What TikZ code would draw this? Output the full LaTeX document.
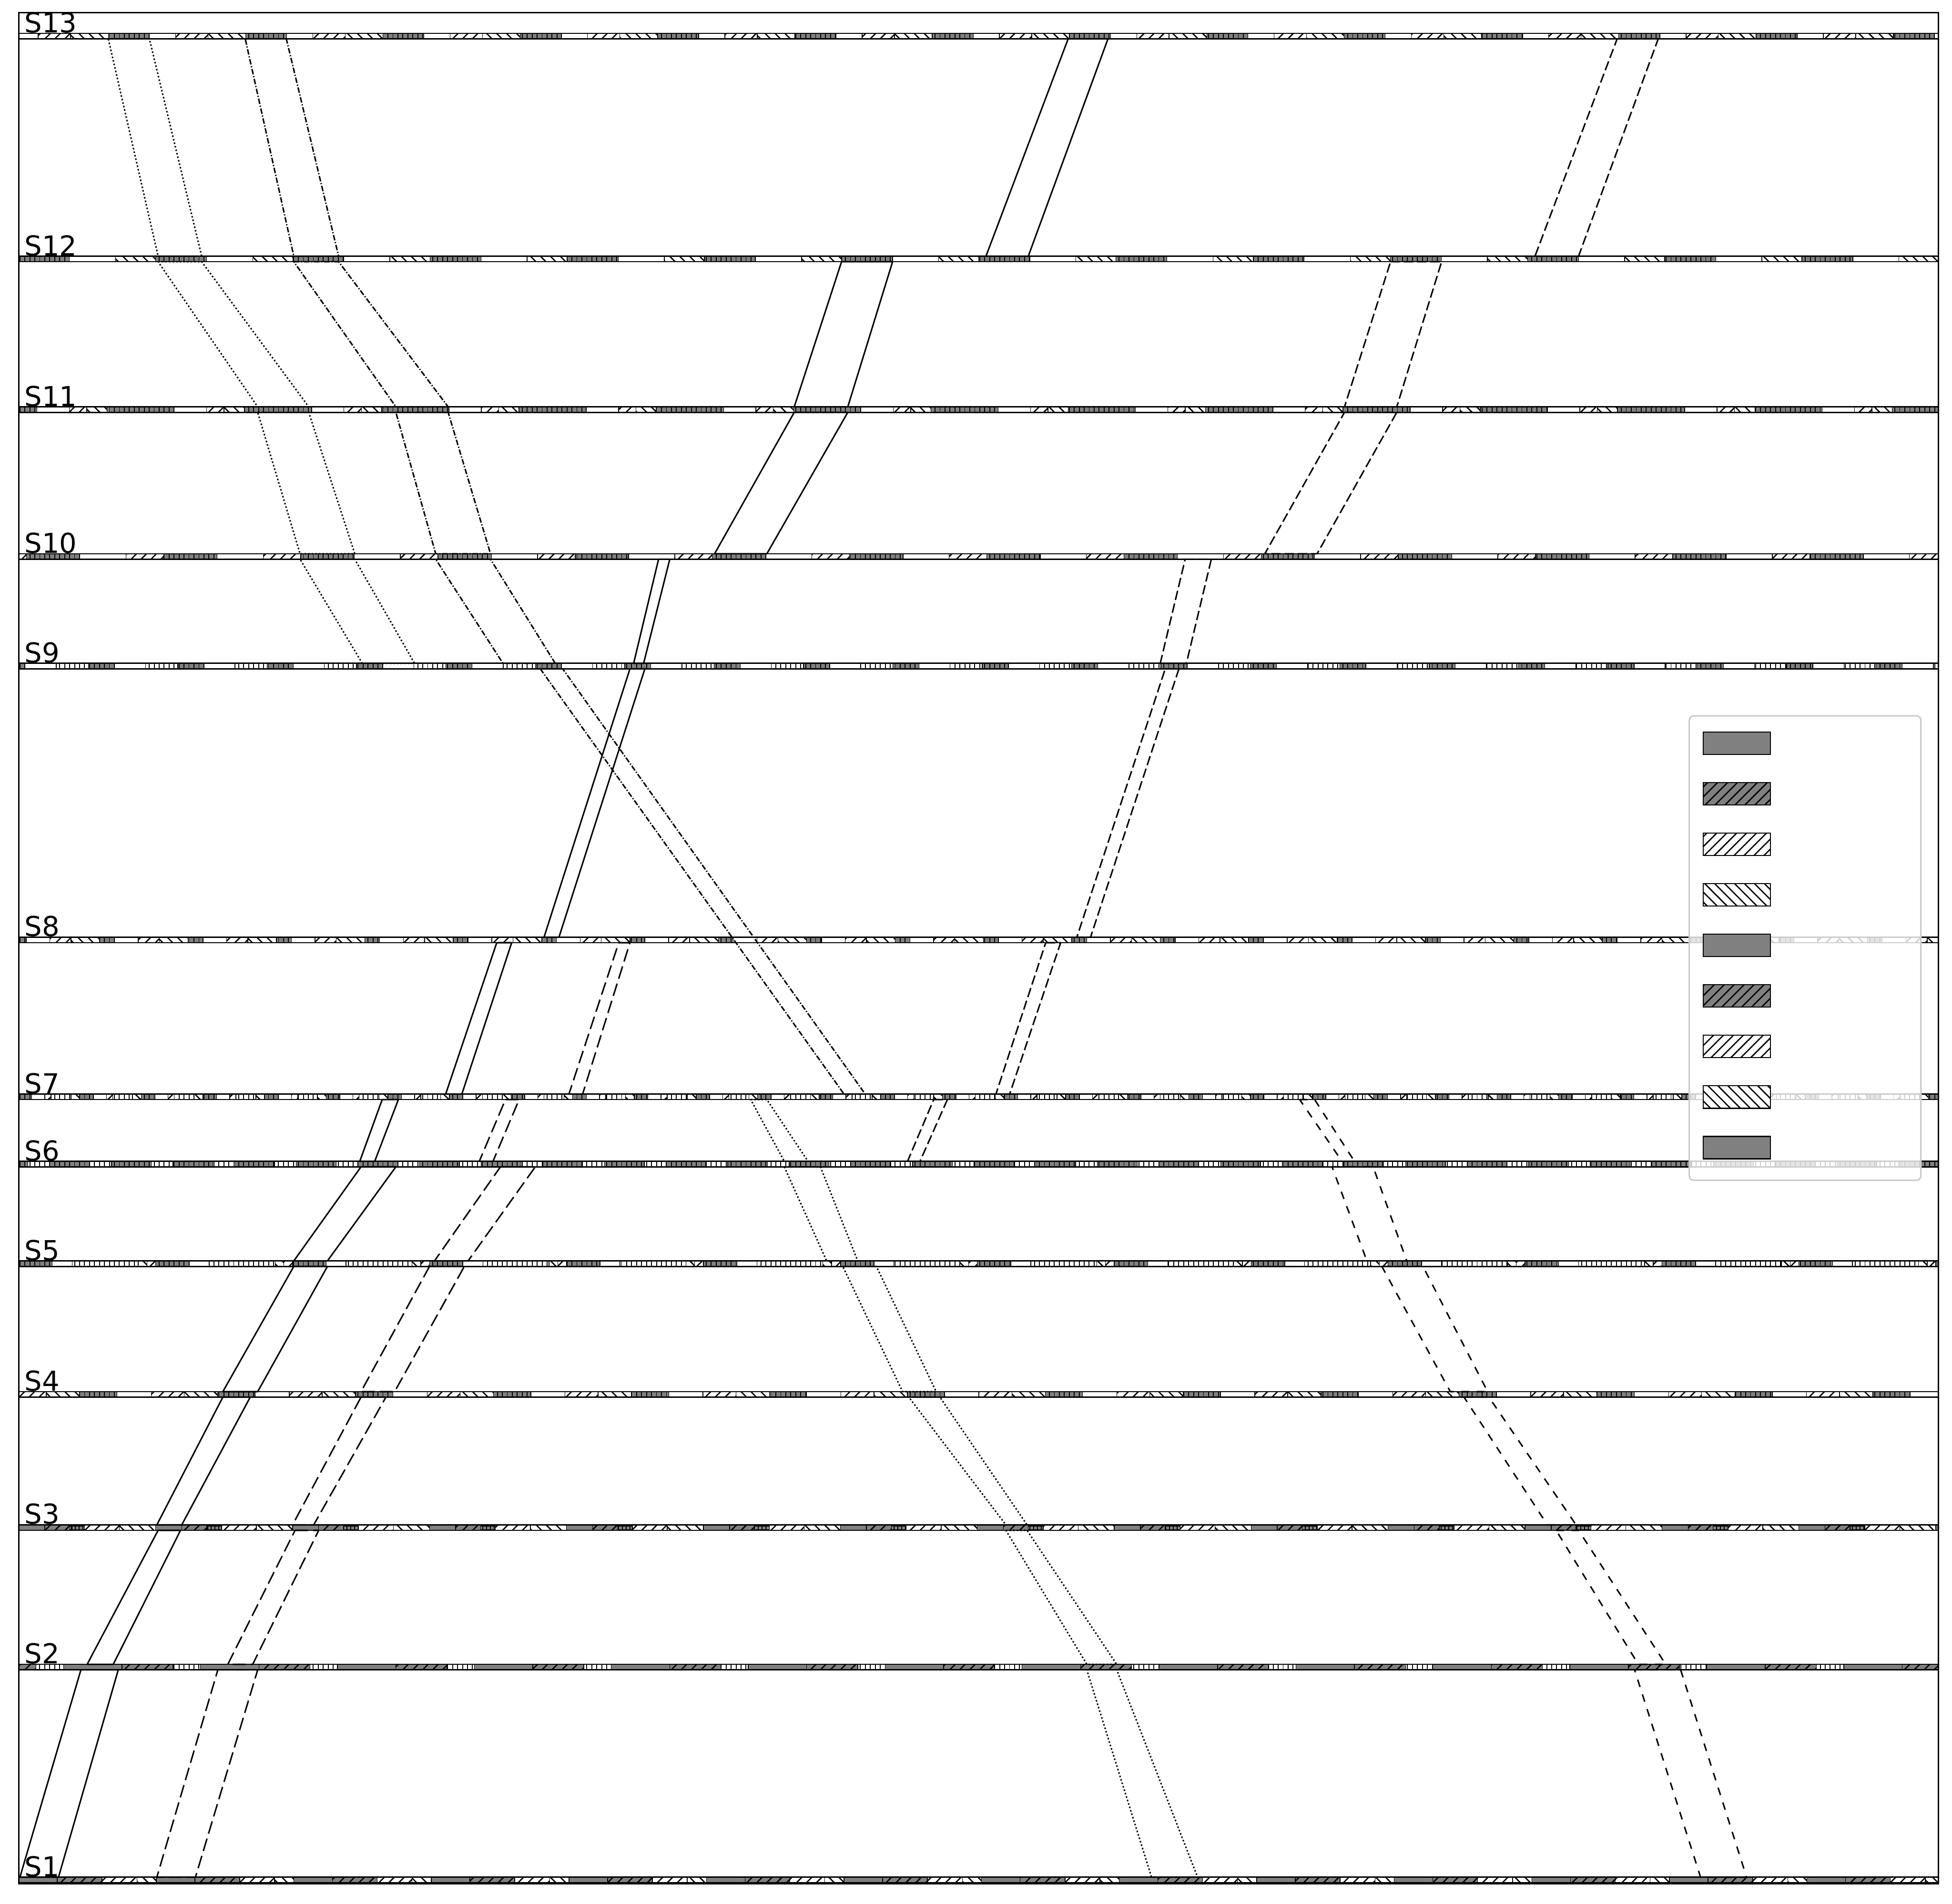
\documentclass[tikz,border=0pt]{standalone}
\usepackage{fontspec}
\setmainfont{DejaVu Sans}
\usetikzlibrary{patterns.meta}

% track rows, S1 (index 1) ... S13 (index 13), y in px from top
\def\ypos{{0,1510,1339,1227,1120,1015,935,881,755,535,447,329,208,29}}

\tikzset{
  seg/.style={draw=black, line width=0.4pt},
  wt/.style={seg, fill=white},
  gy/.style={seg, fill=gray},
  gv/.style={seg, preaction={fill=gray}, pattern={Lines[angle=90,distance=2.9pt,line width=0.5pt]}, pattern color=black},
  wv/.style={seg, preaction={fill=white}, pattern={Lines[angle=90,distance=2.9pt,line width=0.55pt]}, pattern color=black},
  wne/.style={seg, preaction={fill=white}, pattern={Lines[angle=45,distance=4.1pt,line width=0.75pt]}, pattern color=black},
  wnw/.style={seg, preaction={fill=white}, pattern={Lines[angle=-45,distance=4.1pt,line width=0.75pt]}, pattern color=black},
  gne/.style={seg, preaction={fill=gray}, pattern={Lines[angle=45,distance=4.1pt,line width=0.75pt]}, pattern color=black},
  ggrid/.style={seg, preaction={fill=gray}, pattern={Hatch[angle=0,distance=2.2pt,line width=0.6pt]}, pattern color=black},
  strip/.style={draw=black, line width=0.75pt},
  band/.style={line width=0.85pt, line join=round},
  solidband/.style={band},
  dotband/.style={band, dash pattern=on 0.9pt off 1.2pt},
  dashdotband/.style={band, dash pattern=on 3.2pt off 1pt on 0.7pt off 1pt},
  dashband/.style={band, dash pattern=on 5.5pt off 2.2pt},
  longdashband/.style={band, dash pattern=on 7.5pt off 3pt},
  loosedashband/.style={band, dash pattern=on 4.5pt off 4.5pt},
  lbl/.style={anchor=base west, inner sep=0pt, font=\fontsize{16}{19}\selectfont},
  legendbox/.style={draw=gray!40, line width=0.9pt, fill=white, fill opacity=0.8, rounded corners=2.5pt},
  legpatch/.style={line width=0.6pt}
}

% #1 track, #2 phase, #3 period, #4 cycles, #5 segments style/from/to
\newcommand{\seqtrack}[5]{%
  \pgfmathsetmacro{\ty}{\ypos[#1]}
  \begin{scope}
    \clip (15,\ty-2.2) rectangle (1557,\ty+2.2);
    \foreach \k in {0,...,#4} {
      \foreach \s/\a/\b in {#5} {
        \edef\segpath{\noexpand\path[\s]}
        \segpath ({#2+\k*#3+\a},\ty-2.2) rectangle ({#2+\k*#3+\b},\ty+2.2);
      }
    }
  \end{scope}
  \draw[strip] (15,\ty-2.2) rectangle (1557,\ty+2.2);
}

% #1 style, #2 upper track, #3 #4 x on it, #5 lower track, #6 #7 x on it
\newcommand{\syntband}[7]{%
  \pgfmathsetmacro{\yu}{\ypos[#2]+2.2}
  \pgfmathsetmacro{\yl}{\ypos[#5]-2.2}
  \draw[#1] (#3,\yu) -- (#4,\yu) -- (#7,\yl) -- (#6,\yl) -- cycle;
}

\begin{document}
\begin{tikzpicture}[x=0.02551cm, y=-0.02551cm]
  \useasboundingbox (0,0) rectangle (1568,1529);

  % tracks
  \seqtrack{13}{-23.3}{110.3}{15}{gv/0/33, wt/33/54, wne/54/80, wnw/80/110.3}
  \seqtrack{12}{14.8}{110.2}{15}{gv/0/41, wt/41/78, wnw/78/110.2}
  \seqtrack{11}{-24.3}{110.3}{15}{gv/0/54, wt/54/80, wne/80/94, wnw/94/110.3}
  \seqtrack{10}{-89}{110.2}{16}{gv/0/43, wt/43/80, wne/80/110.2}
  \seqtrack{9}{-0.8}{71.8}{22}{gv/0/21, wt/21/46, wv/46/71.8}
  \seqtrack{8}{9}{71}{22}{gv/0/12, wt/12/31, wne/31/48, wnw/48/71}
  \seqtrack{7}{14.5}{49.5}{31}{gv/0/11, wt/11/21.5, wne/21.5/26.5, wv/26.5/42.5, wnw/42.5/49.5}
  \seqtrack{6}{-9.5}{49.5}{32}{gv/0/32, wv/32/49.5}
  \seqtrack{5}{15}{110}{14}{gv/0/27, wt/27/43, wv/43/96, wnw/96/103, wne/103/110}
  \seqtrack{4}{-46.8}{110.8}{15}{gv/0/30, wt/30/57.5, wne/57.5/84, wnw/84/110.8}
  \seqtrack{3}{15}{110}{14}{gy/0/21, gne/21/41, ggrid/41/53, wne/53/81, wnw/81/110}
  \seqtrack{2}{-59}{110}{15}{gy/0/47, gne/47/88, wv/88/110}
  \seqtrack{1}{15}{110.5}{14}{gy/0/31, gne/31/67, wne/67/95, wnw/95/110.5}

  % dotted, left top
  \syntband{dotband}{13}{87}{120}{12}{127}{162}
  \syntband{dotband}{12}{127}{162}{11}{207}{248}
  \syntband{dotband}{11}{207}{248}{10}{241}{285}
  \syntband{dotband}{10}{241}{285}{9}{291}{333}
  % dash-dot
  \syntband{dashdotband}{13}{197}{230}{12}{236}{272}
  \syntband{dashdotband}{12}{236}{272}{11}{318}{360}
  \syntband{dashdotband}{11}{318}{360}{10}{350}{394}
  \syntband{dashdotband}{10}{350}{394}{9}{404}{446}
  \syntband{dashdotband}{9}{434}{452}{7}{678}{695}
  % solid, top
  \syntband{solidband}{13}{858}{890}{12}{792}{826}
  \syntband{solidband}{12}{676}{717}{11}{638}{681}
  \syntband{solidband}{11}{638}{681}{10}{574}{616}
  % dashed, top right
  \syntband{dashband}{13}{1299}{1332}{12}{1233}{1268}
  \syntband{dashband}{12}{1117}{1158}{11}{1080}{1122}
  \syntband{dashband}{11}{1080}{1122}{10}{1016}{1058}
  % solid, down to S1
  \syntband{solidband}{10}{529}{538}{9}{509}{517}
  \syntband{solidband}{9}{506}{518}{8}{437}{449}
  \syntband{solidband}{8}{399}{411}{7}{358}{371}
  \syntband{solidband}{7}{307}{320}{6}{289}{301}
  \syntband{solidband}{6}{290}{318}{5}{236}{263}
  \syntband{solidband}{5}{236}{263}{4}{179}{207}
  \syntband{solidband}{4}{179}{201}{3}{126}{146}
  \syntband{solidband}{3}{127}{145}{2}{70}{91}
  \syntband{solidband}{2}{65}{95}{1}{16}{47}
  % long dashes
  \syntband{longdashband}{8}{497}{506}{7}{457}{468}
  \syntband{longdashband}{7}{406}{417}{6}{385}{396}
  \syntband{longdashband}{6}{402}{430}{5}{349}{376}
  \syntband{longdashband}{5}{345}{373}{4}{290}{317}
  \syntband{longdashband}{4}{290}{310}{3}{235}{252}
  \syntband{longdashband}{3}{237}{256}{2}{183}{203}
  \syntband{longdashband}{2}{175}{207}{1}{126}{157}
  % dashed, middle
  \syntband{dashband}{10}{952}{973}{9}{932}{953}
  \syntband{dashband}{9}{936}{947}{8}{865}{876}
  \syntband{dashband}{8}{840}{852}{7}{800}{811}
  \syntband{dashband}{7}{750}{761}{6}{729}{739}
  % dotted, S7 to S1
  \syntband{dotband}{7}{603}{616}{6}{630}{649}
  \syntband{dotband}{6}{630}{659}{5}{664}{689}
  \syntband{dotband}{5}{677}{704}{4}{725}{752}
  \syntband{dotband}{4}{730}{755}{3}{808}{825}
  \syntband{dotband}{3}{808}{825}{2}{873}{897}
  \syntband{dotband}{2}{873}{897}{1}{925}{962}
  % loose dashes, right
  \syntband{loosedashband}{7}{1044}{1056}{6}{1078}{1088}
  \syntband{loosedashband}{6}{1070}{1103}{5}{1098}{1130}
  \syntband{loosedashband}{5}{1110}{1143}{4}{1165}{1195}
  \syntband{loosedashband}{4}{1176}{1196}{3}{1243}{1266}
  \syntband{loosedashband}{3}{1250}{1268}{2}{1316}{1338}
  \syntband{loosedashband}{2}{1313}{1350}{1}{1366}{1403}

  % legend
  \draw[legendbox] (1357,575) rectangle (1543,948);
  \foreach \s [count=\i] in {gy,gne,wne,wnw,gy,gne,wne,wnw,gy} {
    \pgfmathsetmacro{\py}{597+(\i-1)*40.6}
    \edef\segpath{\noexpand\path[\s, legpatch]}
    \segpath (1368,\py-9) rectangle (1422,\py+9);
  }

  % labels
  \foreach \i in {1,...,13} {
    \pgfmathsetmacro{\ty}{\ypos[\i]-2.8}
    \node[lbl] (lab\i) at (19.5,\ty) {S\i};
  }

  \draw[line width=0.8pt] (15,10) rectangle (1557,1513);
\end{tikzpicture}
\end{document}
